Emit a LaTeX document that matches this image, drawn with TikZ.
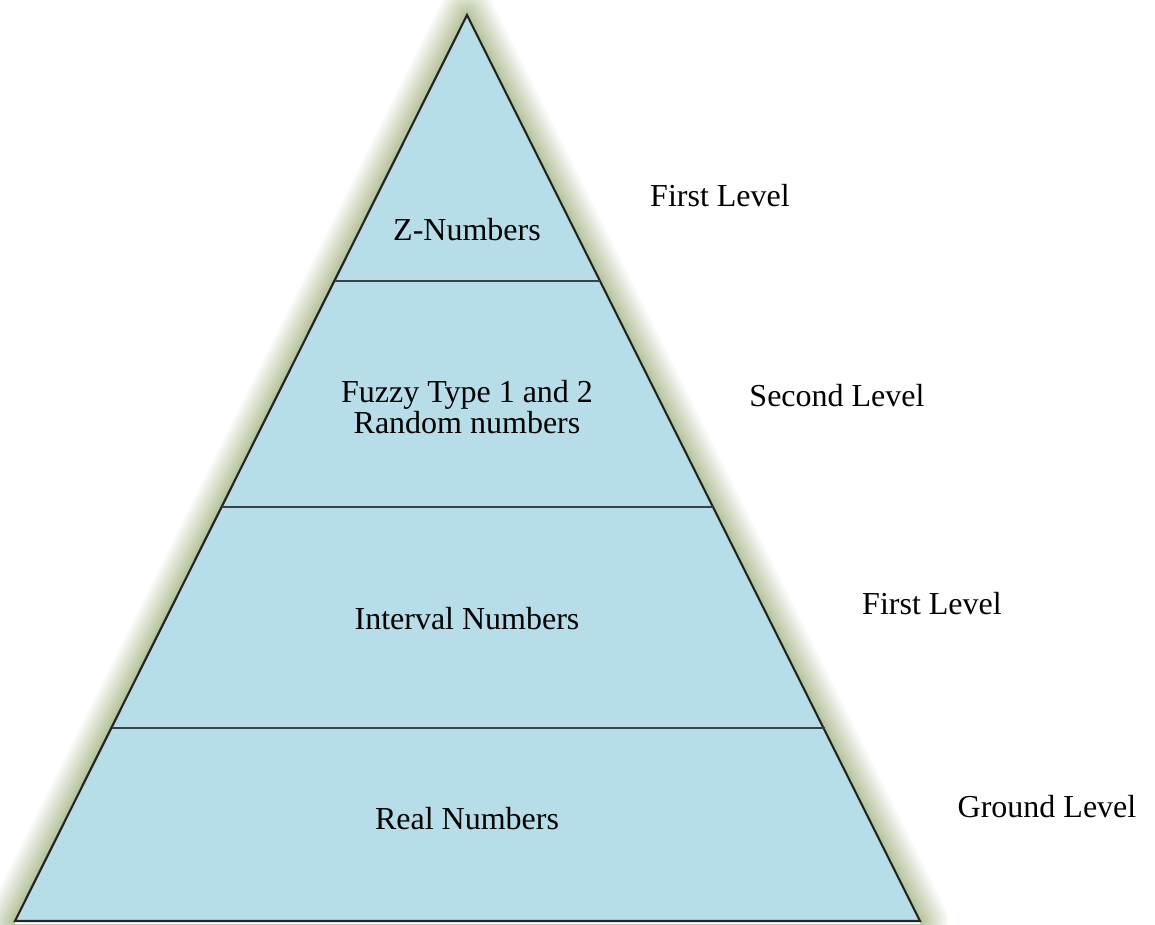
\documentclass[tikz,border=0pt]{standalone}
\usepackage{fontspec}
\setmainfont{Liberation Serif}
\definecolor{pyrfill}{HTML}{B7DDE8}
\definecolor{glowc}{HTML}{8A9E62}
\begin{document}
\begin{tikzpicture}[x=1pt,y=1pt,
  lbl/.style={font=\fontsize{32}{31}\selectfont, align=center, inner sep=0pt},
  divider/.style={draw=black!70!pyrfill, line width=1.2pt},
  glowline/.style={draw=glowc, line join=round, draw opacity=0.07}]
\useasboundingbox (0,0) rectangle (1155,924);
\coordinate (A) at (467,909);
\coordinate (L) at (15,3);
\coordinate (R) at (920,3);
% glow
\foreach \w in {56,50,44,39,34,29,25,21,17,13,10,7,4}{
  \draw[glowline, line width=\w pt] (A) -- (L) -- (R) -- cycle;
}
\fill[white] (L) -- (R) -- (R|-0,0) -- (L|-0,0) -- cycle;
\filldraw[fill=pyrfill, draw=black!85, line width=2.2pt, line join=miter] (A) -- (L) -- (R) -- cycle;
% dividers
\coordinate (d1l) at (335,643); \coordinate (d1r) at (600,643);
\coordinate (d2l) at (222,417); \coordinate (d2r) at (713,417);
\coordinate (d3l) at (112,196); \coordinate (d3r) at (825,196);
\draw[divider] (d1l) -- (d1r);
\draw[divider] (d2l) -- (d2r);
\draw[divider] (d3l) -- (d3r);
% labels
\node[lbl] (z) at (467,694) {Z-Numbers};
\node[lbl] (f) at (467,517) {Fuzzy Type 1 and 2\\Random numbers};
\node[lbl] (i) at (467,305) {Interval Numbers};
\node[lbl] (r) at (467,105) {Real Numbers};
\node[lbl] (l1) at (720,728) {First Level};
\node[lbl] (l2) at (837,528) {Second Level};
\node[lbl] (l3) at (932,320) {First Level};
\node[lbl] (l4) at (1047,117) {Ground Level};
\end{tikzpicture}
\end{document}
